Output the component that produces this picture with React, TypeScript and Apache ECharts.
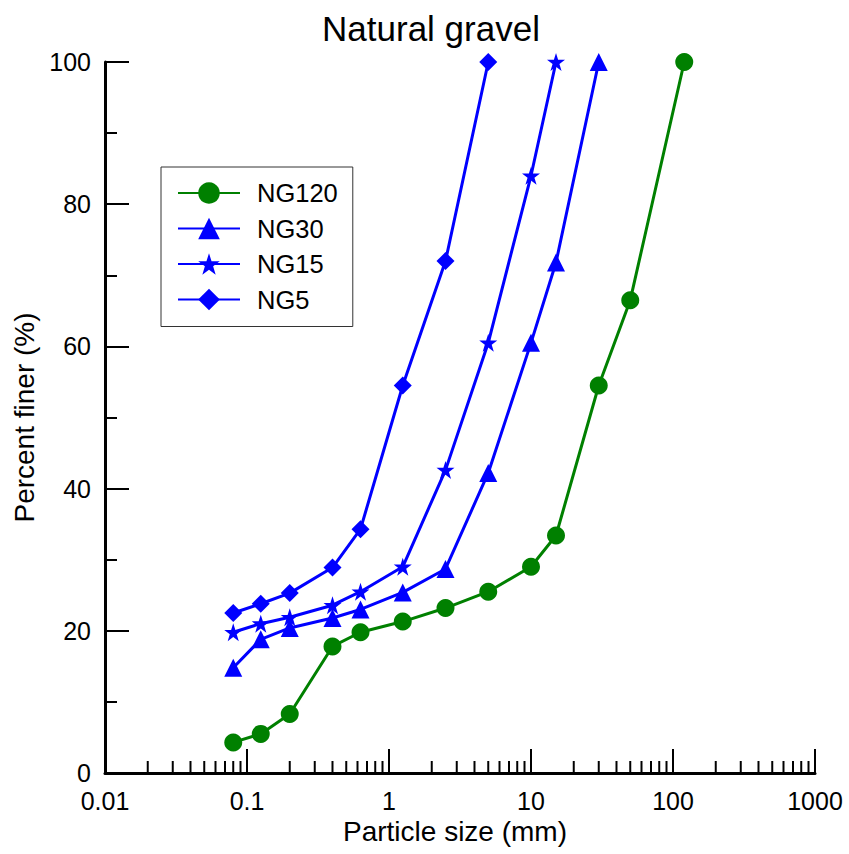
import React, { useEffect, useRef } from "react";
import * as echarts from "echarts";

const sizesNG = [0.08, 0.125, 0.2, 0.4, 0.63, 1.25, 2.5, 5, 10, 15, 30, 50, 120];
const ng120 = [4.3, 5.5, 8.3, 17.8, 19.8, 21.3, 23.2, 25.5, 29.0, 33.4, 54.5, 66.5, 100];

const sizesNG30 = [0.08, 0.125, 0.2, 0.4, 0.63, 1.25, 2.5, 5, 10, 15, 30];
const ng30 = [14.8, 18.8, 20.4, 21.8, 23.0, 25.4, 28.7, 42.2, 60.5, 71.8, 100];

const sizesNG15 = [0.08, 0.125, 0.2, 0.4, 0.63, 1.25, 2.5, 5, 10, 15];
const ng15 = [19.8, 21.0, 21.9, 23.6, 25.5, 29.0, 42.6, 60.5, 84.0, 100];

const sizesNG5 = [0.08, 0.125, 0.2, 0.4, 0.63, 1.25, 2.5, 5];
const ng5 = [22.5, 23.8, 25.3, 28.9, 34.3, 54.5, 72.0, 100];

const xTickLabels = ["0.01", "0.1", "1", "10", "100", "1000"];
const xMinorTicks = [
  0.02, 0.03, 0.04, 0.05, 0.06, 0.07, 0.08, 0.09,
  0.2, 0.3, 0.4, 0.5, 0.6, 0.7, 0.8, 0.9,
  2, 3, 4, 5, 6, 7, 8, 9,
  20, 30, 40, 50, 60, 70, 80, 90,
  200, 300, 400, 500, 600, 700, 800, 900,
];

const FONT = "'Liberation Sans', Arial, sans-serif";
const GREEN = "#008000";
const BLUE = "#0000ff";
const STAR =
  "path://M50,0 L61.8,35.3 L100,35.3 L69.1,57.9 L80.9,95.1 L50,72.6 L19.1,95.1 L30.9,57.9 L0,35.3 L38.2,35.3 Z";

function pairs(xs: number[], ys: number[]) {
  return xs.map((x, i) => [x, ys[i]]);
}

export default function App() {
  const ref = useRef<HTMLDivElement>(null);
  useEffect(() => {
    if (!ref.current) return;
    const chart = echarts.init(ref.current, null, { renderer: "svg" });
    const lineSeries = (name: string, data: number[][], color: string, symbol: string, size: number) => ({
      name,
      type: "line",
      data,
      symbol,
      symbolSize: size,
      showAllSymbol: true,
      lineStyle: { color, width: 3 },
      itemStyle: { color },
      z: 5,
    });
    chart.setOption({
      animation: false,
      backgroundColor: "#ffffff",
      title: {
        text: "Natural gravel",
        left: 426,
        textAlign: "center",
        top: 6,
        textStyle: { fontFamily: FONT, fontSize: 35, fontWeight: "normal", color: "#000" },
      },
      legend: {
        orient: "vertical",
        left: 161,
        top: 167,
        data: ["NG120", "NG30", "NG15", "NG5"],
        borderColor: "#333",
        borderWidth: 1,
        padding: [12.5, 15, 13.5, 16],
        itemWidth: 62,
        itemHeight: 27,
        itemGap: 8.5,
        textStyle: { fontFamily: FONT, fontSize: 25.5, color: "#000", padding: [0, 0, 0, 12], lineHeight: 27 },
      },
      grid: { left: 105, right: 34, top: 62, bottom: 81, containLabel: false },
      xAxis: {
        type: "log",
        logBase: 10,
        min: 0.01,
        max: 1000,
        name: "Particle size (mm)",
        nameLocation: "middle",
        nameGap: 44,
        nameTextStyle: { fontFamily: FONT, fontSize: 28, color: "#000", padding: [0, 10, 0, 0] },
        axisLine: { show: true, lineStyle: { color: "#000", width: 3 } },
        axisTick: { show: true, inside: true, length: 24, lineStyle: { color: "#000", width: 2 } },
        minorTick: { show: false },
        splitLine: { show: false },
        axisLabel: {
          fontFamily: FONT,
          fontSize: 25,
          color: "#000",
          margin: 15,
          formatter: (v: number, i: number) => xTickLabels[i] ?? String(v),
        },
      },
      yAxis: {
        type: "value",
        min: 0,
        max: 100,
        interval: 20,
        name: "Percent finer (%)",
        nameLocation: "middle",
        nameGap: 62,
        nameTextStyle: { fontFamily: FONT, fontSize: 28, color: "#000" },
        axisLine: { show: true, lineStyle: { color: "#000", width: 3 } },
        axisTick: { show: true, inside: true, length: 24, lineStyle: { color: "#000", width: 2 } },
        minorTick: { show: true, splitNumber: 2, length: 12, lineStyle: { color: "#000", width: 2 } },
        splitLine: { show: false },
        axisLabel: { fontFamily: FONT, fontSize: 25, color: "#000", margin: 14 },
      },
      series: [
        {
          name: "minorTicks",
          type: "custom",
          silent: true,
          clip: false,
          data: xMinorTicks.map((v) => [v, 0]),
          encode: { x: 0, y: 1 },
          renderItem: (_p: any, api: any) => {
            const pt = api.coord([api.value(0), 0]);
            return {
              type: "line",
              shape: { x1: pt[0], y1: pt[1], x2: pt[0], y2: pt[1] - 12 },
              style: { stroke: "#000", lineWidth: 2 },
            };
          },
          z: 1,
        },
        lineSeries("NG120", pairs(sizesNG, ng120), GREEN, "circle", 18),
        lineSeries("NG30", pairs(sizesNG30, ng30), BLUE, "triangle", 18),
        lineSeries("NG15", pairs(sizesNG15, ng15), BLUE, STAR, 18),
        lineSeries("NG5", pairs(sizesNG5, ng5), BLUE, "diamond", 18),
      ],
    });
    return () => chart.dispose();
  }, []);
  return (
    <div
      ref={ref}
      style={{ position: "fixed", left: 0, top: 0, width: 849, height: 854, background: "#fff" }}
    />
  );
}
